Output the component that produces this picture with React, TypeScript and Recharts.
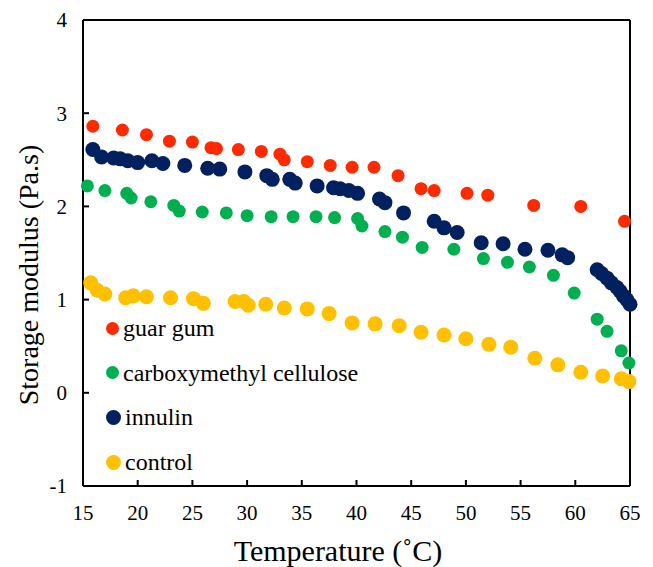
import React from 'react';
import {
  ScatterChart,
  Scatter,
  XAxis,
  YAxis,
  ReferenceLine,
  Label,
} from 'recharts';

// values
const xTicks = [15, 20, 25, 30, 35, 40, 45, 50, 55, 60, 65];
const yTicks = [-1, 0, 1, 2, 3, 4];

const guarTemp = [15.9, 18.6, 20.8, 22.9, 25.0, 26.7, 27.2, 29.2, 31.3, 33.0, 33.4, 35.5, 37.6, 39.6, 41.6, 43.8, 45.9, 47.1, 50.1, 52.0, 56.2, 60.5, 64.5];
const guarValue = [2.86, 2.82, 2.77, 2.7, 2.69, 2.63, 2.62, 2.61, 2.59, 2.56, 2.5, 2.48, 2.44, 2.42, 2.42, 2.33, 2.19, 2.17, 2.14, 2.12, 2.01, 2.0, 1.84];

const cmcTemp = [15.4, 17.0, 19.0, 19.4, 21.2, 23.3, 23.8, 25.9, 28.1, 30.0, 32.2, 34.2, 36.3, 38.0, 40.1, 40.5, 42.6, 44.2, 46.0, 48.9, 51.6, 53.8, 55.8, 58.0, 59.9, 62.0, 62.9, 64.2, 64.9];
const cmcValue = [2.22, 2.17, 2.14, 2.09, 2.05, 2.01, 1.95, 1.94, 1.93, 1.9, 1.89, 1.89, 1.89, 1.88, 1.87, 1.79, 1.73, 1.67, 1.56, 1.54, 1.44, 1.4, 1.35, 1.26, 1.07, 0.79, 0.66, 0.45, 0.32];

const innulinTemp = [15.9, 16.7, 17.8, 18.4, 19.1, 20.0, 21.3, 22.3, 24.3, 26.4, 27.5, 29.8, 31.8, 32.3, 33.9, 34.4, 36.4, 37.9, 38.5, 39.3, 40.1, 42.1, 42.6, 44.3, 47.1, 48.0, 49.2, 51.4, 53.4, 55.4, 57.5, 58.8, 59.3, 62.0, 62.4, 62.9, 63.3, 63.8, 64.1, 64.4, 64.7, 65.0];
const innulinValue = [2.61, 2.53, 2.52, 2.51, 2.49, 2.47, 2.49, 2.46, 2.44, 2.41, 2.4, 2.37, 2.33, 2.29, 2.29, 2.25, 2.22, 2.2, 2.19, 2.17, 2.14, 2.08, 2.04, 1.93, 1.84, 1.77, 1.72, 1.61, 1.6, 1.54, 1.53, 1.48, 1.45, 1.32, 1.28, 1.23, 1.18, 1.13, 1.09, 1.04, 1.0, 0.95];

const controlTemp = [15.7, 16.3, 17.0, 18.9, 19.6, 20.8, 23.0, 25.1, 26.0, 28.9, 29.7, 30.1, 31.7, 33.4, 35.5, 37.5, 39.6, 41.7, 43.9, 45.9, 48.0, 50.0, 52.1, 54.1, 56.3, 58.4, 60.5, 62.5, 64.2, 64.9];
const controlValue = [1.18, 1.1, 1.06, 1.02, 1.04, 1.03, 1.02, 1.01, 0.96, 0.98, 0.98, 0.94, 0.95, 0.91, 0.9, 0.85, 0.75, 0.74, 0.72, 0.65, 0.62, 0.58, 0.52, 0.49, 0.37, 0.3, 0.22, 0.18, 0.15, 0.12];

const toPoints = (xs: number[], ys: number[]) => xs.map((x, i) => ({ x, y: ys[i] }));

const series = [
  { name: 'guar gum', color: '#FF2A00', r: 6.5, data: toPoints(guarTemp, guarValue) },
  { name: 'carboxymethyl cellulose', color: '#00B050', r: 6.5, data: toPoints(cmcTemp, cmcValue) },
  { name: 'innulin', color: '#002060', r: 7.5, data: toPoints(innulinTemp, innulinValue) },
  { name: 'control', color: '#FFC000', r: 7.5, data: toPoints(controlTemp, controlValue) },
];

const FONT = "'Liberation Serif', 'Times New Roman', 'DejaVu Serif', serif";

const dot = (r: number, color: string) => (props: any) =>
  <circle cx={props.cx} cy={props.cy} r={r} fill={color} />;

// legend sits inside the plot, bottom left
const LegendBox = () => (
  <div style={{ position: 'absolute', left: 106, top: 306, fontFamily: FONT, fontSize: 24, color: '#000', lineHeight: 1 }}>
    {series.map(s => (
      <div key={s.name} style={{ display: 'flex', alignItems: 'center', height: 44.6, whiteSpace: 'nowrap' }}>
        <span style={{
          display: 'inline-block', width: s.r * 2, height: s.r * 2, borderRadius: '50%',
          background: s.color, marginRight: 4,
        }} />
        <span>{s.name}</span>
      </div>
    ))}
  </div>
);

export default function App() {
  const black = { stroke: '#000', strokeWidth: 2 };
  const tickStyle = { fill: '#000', fontSize: 21, fontFamily: FONT, style: { fontFamily: FONT } };
  return (
    <div style={{ position: 'absolute', left: 0, top: 0, width: 653, height: 567, background: '#fff', fontFamily: FONT }}>
      <ScatterChart width={653} height={567} margin={{ top: 20, right: 23, bottom: 0, left: 0 }} style={{ fontFamily: FONT }}>
        <XAxis
          type="number"
          dataKey="x"
          domain={[15, 65]}
          ticks={xTicks}
          height={81}
          axisLine={black}
          tickLine={black}
          tickSize={-6}
          tickMargin={25}
          tick={tickStyle}
        >
          <Label
            content={() => (
              <text x={338} y={561} textAnchor="middle" fill="#000" fontSize={30} style={{ fontFamily: FONT }}>
                Temperature (˚C)
              </text>
            )}
          />
        </XAxis>
        <YAxis
          type="number"
          dataKey="y"
          domain={[-1, 4]}
          ticks={yTicks}
          width={83}
          axisLine={black}
          tickLine={black}
          tickSize={-6}
          tickMargin={22}
          tick={tickStyle}
        >
          <Label
            content={() => (
              <text
                x={38}
                y={275}
                transform="rotate(-90 38 275)"
                textAnchor="middle"
                fill="#000"
                fontSize={28}
                style={{ fontFamily: FONT }}
              >
                Storage modulus (Pa.s)
              </text>
            )}
          />
        </YAxis>
        <ReferenceLine y={4} stroke="#000" strokeWidth={2} />
        <ReferenceLine x={65} stroke="#000" strokeWidth={2} />
        {series.map(s => (
          <Scatter
            key={s.name}
            name={s.name}
            data={s.data}
            fill={s.color}
            shape={dot(s.r, s.color)}
            isAnimationActive={false}
          />
        ))}
      </ScatterChart>
      <LegendBox />
    </div>
  );
}
